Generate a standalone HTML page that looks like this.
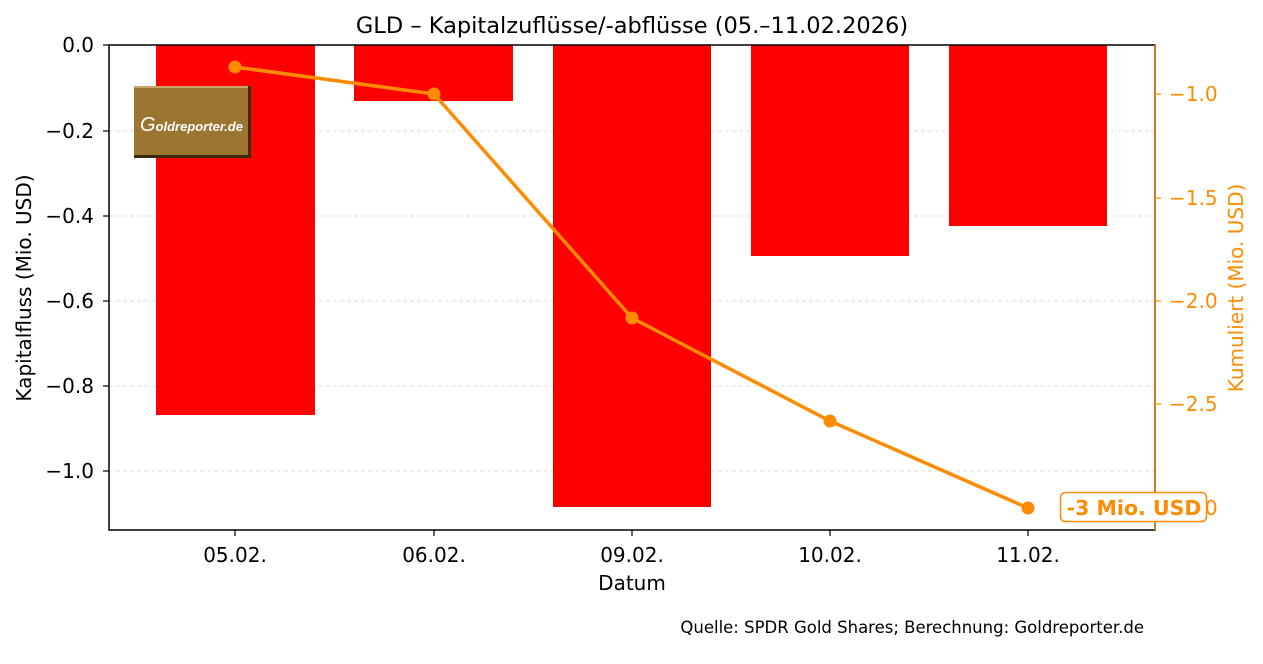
<!DOCTYPE html>
<html><head><meta charset="utf-8"><style>body{margin:0;background:#fff}svg{display:block}text{font-family:"DejaVu Sans","Liberation Sans",sans-serif}</style></head>
<body>
<svg width="1263" height="664" viewBox="0 0 1263 664" xmlns="http://www.w3.org/2000/svg">
<rect width="1263" height="664" fill="#fff"/>
<g stroke="#d3d3d3" stroke-width="0.8" stroke-dasharray="4,3">
<line x1="109" x2="1155" y1="131" y2="131"/><line x1="109" x2="1155" y1="216" y2="216"/>
<line x1="109" x2="1155" y1="301" y2="301"/><line x1="109" x2="1155" y1="386" y2="386"/>
<line x1="109" x2="1155" y1="471" y2="471"/>
</g>
<g fill="#ff0000">
<rect x="156" y="45" width="159" height="370"/>
<rect x="354" y="45" width="159" height="56"/>
<rect x="553" y="45" width="158" height="462"/>
<rect x="751" y="45" width="158" height="211"/>
<rect x="949" y="45" width="158" height="181"/>
</g>
<rect x="134" y="86" width="117" height="72" fill="#3a2a0a"/>
<rect x="134" y="86" width="114" height="69" fill="#9a7631"/>
<rect x="134" y="86" width="114" height="2" fill="#c9a96a"/>
<text x="140" y="131" font-size="20" font-style="italic" fill="#fff" style="font-family:'Liberation Sans',sans-serif">G<tspan font-size="13" font-weight="bold">oldreporter.de</tspan></text>
<polyline points="235,67 434,94 632,318 830,421 1028,508" fill="none" stroke="#ff8c00" stroke-width="3.5"/>
<g fill="#ff8c00"><circle cx="235" cy="67" r="6.5"/><circle cx="434" cy="94" r="6.5"/><circle cx="632" cy="318" r="6.5"/><circle cx="830" cy="421" r="6.5"/><circle cx="1028" cy="508" r="6.5"/></g>
<rect x="109" y="45" width="1046" height="485" fill="none" stroke="#000" stroke-width="1.5"/>
<line x1="1155" y1="45" x2="1155" y2="530" stroke="#d97f00" stroke-width="1.5"/>
<g stroke="#000" stroke-width="1.2">
<line x1="103" x2="109" y1="45" y2="45"/><line x1="103" x2="109" y1="131" y2="131"/><line x1="103" x2="109" y1="216" y2="216"/><line x1="103" x2="109" y1="301" y2="301"/><line x1="103" x2="109" y1="386" y2="386"/><line x1="103" x2="109" y1="471" y2="471"/>
<line x1="235" x2="235" y1="530" y2="536"/><line x1="434" x2="434" y1="530" y2="536"/><line x1="632" x2="632" y1="530" y2="536"/><line x1="830" x2="830" y1="530" y2="536"/><line x1="1028" x2="1028" y1="530" y2="536"/>
</g>
<g stroke="#ff8c00" stroke-width="1.2">
<line x1="1155" x2="1161" y1="94" y2="94"/><line x1="1155" x2="1161" y1="198" y2="198"/><line x1="1155" x2="1161" y1="301" y2="301"/><line x1="1155" x2="1161" y1="404" y2="404"/><line x1="1155" x2="1161" y1="508" y2="508"/>
</g>
<g font-size="20" text-anchor="end" fill="#000">
<text x="94" y="52">0.0</text><text x="94" y="138">−0.2</text><text x="94" y="223">−0.4</text><text x="94" y="308">−0.6</text><text x="94" y="393">−0.8</text><text x="94" y="478">−1.0</text>
</g>
<g font-size="20" fill="#ff8c00">
<text x="1169" y="101">−1.0</text><text x="1169" y="205">−1.5</text><text x="1169" y="308">−2.0</text><text x="1169" y="411">−2.5</text><text x="1169" y="515">−3.0</text>
</g>
<g font-size="20" text-anchor="middle" fill="#000">
<text x="235" y="562">05.02.</text><text x="434" y="562">06.02.</text><text x="632" y="562">09.02.</text><text x="830" y="562">10.02.</text><text x="1028" y="562">11.02.</text>
<text x="632" y="590">Datum</text>
<text x="632" y="33" font-size="22.5">GLD – Kapitalzuflüsse/-abflüsse (05.–11.02.2026)</text>
</g>
<text transform="translate(31,288) rotate(-90)" font-size="20" text-anchor="middle">Kapitalfluss (Mio. USD)</text>
<text transform="translate(1243,288) rotate(-90)" font-size="20" text-anchor="middle" fill="#ff8c00">Kumuliert (Mio. USD)</text>
<rect x="1060.5" y="492.5" width="146" height="29" rx="5" fill="#fff" stroke="#ff8c00" stroke-width="1.5"/>
<text x="1134" y="515" font-size="20.5" font-weight="bold" text-anchor="middle" fill="#ff8c00">-3 Mio. USD</text>
<text x="1144" y="633" font-size="16.5" text-anchor="end" fill="#000">Quelle: SPDR Gold Shares; Berechnung: Goldreporter.de</text>
</svg>
</body></html>
